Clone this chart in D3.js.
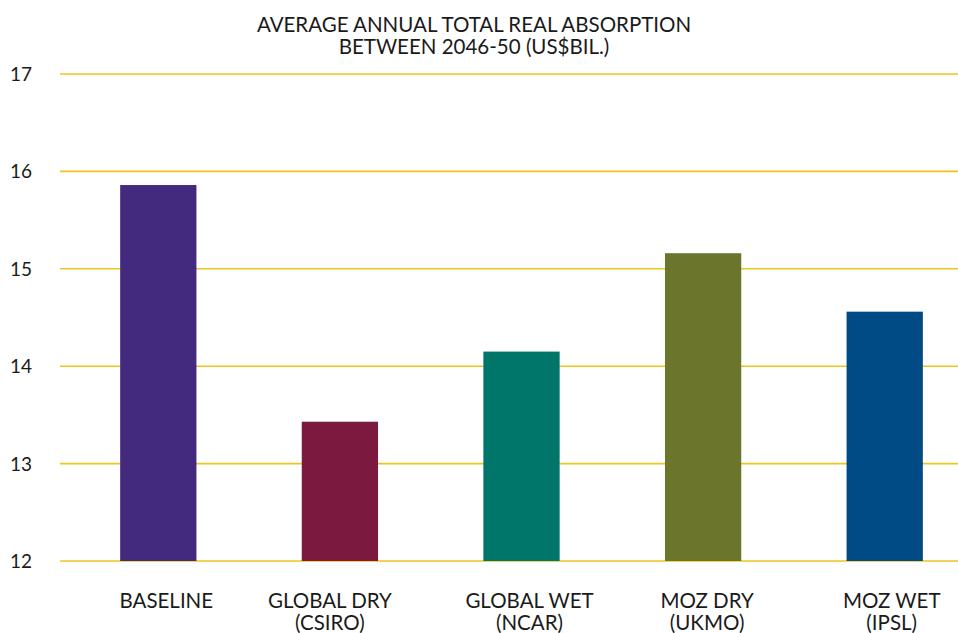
<!DOCTYPE html>
<html><head><meta charset="utf-8">
<script src="https://cdn.jsdelivr.net/npm/d3@7"></script>
<style>body{margin:0;background:#fff}svg{display:block}text{font-family:Lato,"Open Sans",sans-serif;fill:#1a1a1a}</style>
</head><body>
<svg id="c" width="958" height="633"></svg>
<script>
const categories = [["BASELINE"],["GLOBAL DRY","(CSIRO)"],["GLOBAL WET","(NCAR)"],["MOZ DRY","(UKMO)"],["MOZ WET","(IPSL)"]];
const values = [15.86, 13.43, 14.15, 15.16, 14.56];
const colors = ["#432A7E","#7B1A3E","#00756A","#6B752B","#004B85"];
const yTicks = [12,13,14,15,16,17];
const titleLines = ["AVERAGE ANNUAL TOTAL REAL ABSORPTION","BETWEEN 2046-50 (US$BIL.)"];

// layout: small horizontal nudges of category labels relative to bar centres
const labelNudge = [8,-10,8,4,7];

const svg = d3.select("#c");
const y = d3.scaleLinear().domain([12,17]).range([561,74]);
const x = d3.scaleBand().domain(d3.range(values.length)).range([67.5,975.5]).paddingInner(0.58).paddingOuter(0.29);

svg.append("g").selectAll("line").data(yTicks).join("line")
  .attr("x1",60).attr("x2",958).attr("y1",d=>y(d)).attr("y2",d=>y(d))
  .attr("stroke","#EEC51C").attr("stroke-width",1.6);
svg.append("g").selectAll("text").data(yTicks).join("text")
  .attr("x",21).attr("y",d=>y(d)+7).attr("text-anchor","middle")
  .attr("font-size",19).text(d=>d);

svg.append("g").selectAll("rect").data(values).join("rect")
  .attr("x",(d,i)=>x(i)).attr("width",x.bandwidth())
  .attr("y",d=>y(d)).attr("height",d=>y(12)-y(d))
  .attr("fill",(d,i)=>colors[i]);

const lab = svg.append("g").selectAll("text").data(categories).join("text")
  .attr("text-anchor","middle").attr("font-size",20.5);
lab.each(function(d,i){
  d3.select(this).selectAll("tspan").data(d).join("tspan")
    .attr("x",x(i)+x.bandwidth()/2+labelNudge[i]).attr("y",(t,j)=>608+j*22).text(t=>t);
});

svg.append("g").selectAll("text").data(titleLines).join("text")
  .attr("x",474).attr("y",(d,i)=>32+i*22).attr("text-anchor","middle")
  .attr("font-size",20.5).text(d=>d);
</script>
</body></html>
